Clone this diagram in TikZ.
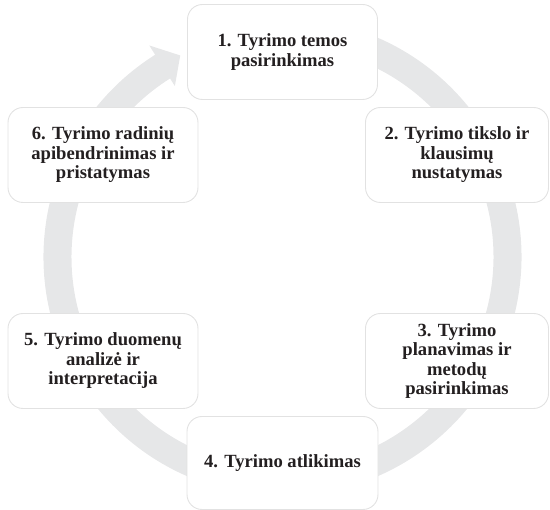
\documentclass[tikz,border=0pt]{standalone}
\usepackage{fontspec}
\setmainfont{Liberation Serif}
\usetikzlibrary{calc}
\definecolor{ringgray}{HTML}{E6E7E8}
\definecolor{boxline}{HTML}{E2E2E2}
\definecolor{txt}{HTML}{231F20}
\begin{document}
\begin{tikzpicture}[x=1pt,y=1pt,
  stepbox/.style={draw=boxline, line width=0.9pt, fill=white, rounded corners=15pt,
    minimum width=190pt, minimum height=95pt, align=center, text=txt,
    font=\fontsize{18.6}{19.5}\selectfont\bfseries, inner sep=2pt}]
\useasboundingbox (0,0) rectangle (550,510);
\coordinate (c) at (282.5,253);
% ring with arrow head
\fill[ringgray] (c) ++(80:239) arc[start angle=80, end angle=-237.8, radius=239]
  -- ($(c)+(122.2:250)$) -- ($(c)+(116.9:226)$) -- ($(c)+(122.2:202)$)
  -- ($(c)+(122.2:211)$) arc[start angle=-237.8, end angle=80, radius=211] -- cycle;
\node[stepbox] (n1) at (282.5,458) {1. Tyrimo temos\\pasirinkimas};
\node[stepbox, minimum width=183pt] (n2) at (457,355) {2. Tyrimo tikslo ir\\klausimų\\nustatymas};
\node[stepbox, minimum width=183pt] (n3) at (457,149) {3. Tyrimo\\planavimas ir\\metodų\\pasirinkimas};
\node[stepbox, minimum width=191pt, minimum height=93pt] (n4) at (282.5,47) {4. Tyrimo atlikimas};
\node[stepbox] (n5) at (103,149) {5. Tyrimo duomenų\\analizė ir\\interpretacija};
\node[stepbox] (n6) at (103,355) {6. Tyrimo radinių\\apibendrinimas ir\\pristatymas};
\end{tikzpicture}
\end{document}
